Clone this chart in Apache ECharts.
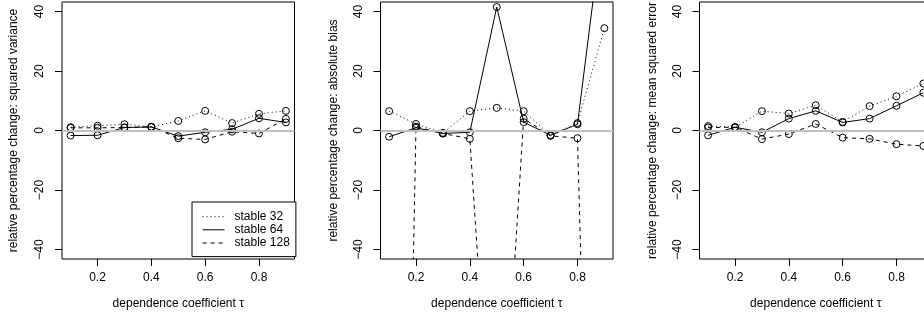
<!DOCTYPE html>
<html>
<head>
<meta charset="utf-8">
<script src="https://cdn.jsdelivr.net/npm/echarts@6/dist/echarts.min.js"></script>
<style>
  html, body { margin: 0; padding: 0; background: #fff; }
  #main { width: 924px; height: 317px; }
</style>
</head>
<body>
<div id="main"></div>
<script>
// dependence coefficient values on the x axis
const tau = [0.1, 0.2, 0.3, 0.4, 0.5, 0.6, 0.7, 0.8, 0.9];
const xTicks = [0.2, 0.4, 0.6, 0.8];
const yTicks = [-40, -20, 0, 20, 40];
const seriesNames = ['stable 32', 'stable 64', 'stable 128'];

// panel 1: squared variance
const varS32 = [1.1, 1.6, 2.1, 1.2, 3.2, 6.6, 2.5, 5.6, 6.6];
const varS64 = [-1.7, -1.6, 1.0, 1.2, -1.9, -0.6, 0.4, 4.1, 2.7];
const varS128 = [0.9, 0.9, 1.0, 1.2, -2.6, -3.0, -0.4, -1.0, 3.9];

// panel 2: absolute bias (some values far outside the plotted range)
const biasS32 = [6.5, 2.2, -0.8, 6.5, 7.6, 6.5, -1.6, 2.5, 34.4];
const biasS64 = [-2.1, 0.9, -1.0, -0.6, 41.5, 2.8, -1.6, 2.1, 74];
const biasS128 = [-450, 1.3, -1.0, -2.8, -140, 4.0, -1.8, -2.6, -330];

// panel 3: mean squared error
const mseS32 = [1.5, 1.1, 6.5, 5.7, 8.5, 2.9, 8.2, 11.5, 15.8];
const mseS64 = [-1.6, 1.1, -0.6, 4.0, 6.6, 2.7, 4.0, 8.3, 12.7];
const mseS128 = [1.0, 1.1, -2.9, -1.2, 2.2, -2.4, -2.8, -4.6, -5.2];

const yNames = [
  'relative percentage change: squared variance',
  'relative percentage change: absolute bias',
  'relative percentage change: mean squared error'
];
const panels = [
  [varS32, varS64, varS128],
  [biasS32, biasS64, biasS128],
  [mseS32, mseS64, mseS128]
];

const font = 'Liberation Sans, Arial, Helvetica, sans-serif';
const dashTypes = [[1, 3], 'solid', [4, 4]];
// left offset of each plot box (the third one runs past the right edge)
const gridLefts = [62, 380.5, 699.5];
const yNameGaps = [42, 40.5, 41];

const grids = gridLefts.map(l => ({
  left: l, top: 2, width: 232.5, height: 257,
  show: true, borderColor: '#000', borderWidth: 1,
  backgroundColor: 'transparent', containLabel: false,
  outerBoundsMode: 'none'
}));

const xAxes = gridLefts.map((l, i) => ({
  type: 'value', gridIndex: i, min: 0.068, max: 0.932,
  name: 'dependence coefficient \u03c4', nameLocation: 'middle', nameGap: 39,
  nameTextStyle: { color: '#000', fontSize: 12, fontFamily: font },
  axisLine: { show: false, onZero: false },
  axisTick: { show: true, length: 7, customValues: xTicks, lineStyle: { color: '#000', width: 1 } },
  axisLabel: {
    customValues: xTicks, margin: 13, color: '#000', fontSize: 12, fontFamily: font,
    formatter: v => v.toFixed(1)
  },
  splitLine: { show: false }
}));

const yAxes = gridLefts.map((l, i) => ({
  type: 'value', gridIndex: i, min: -43.2, max: 43.2,
  name: yNames[i], nameLocation: 'middle', nameGap: yNameGaps[i], nameRotate: 90,
  nameTextStyle: { color: '#000', fontSize: 12, fontFamily: font },
  axisLine: { show: false, onZero: false },
  axisTick: { show: true, length: 7, customValues: yTicks, lineStyle: { color: '#000', width: 1 } },
  axisLabel: {
    customValues: yTicks, rotate: 90, margin: 16, color: '#000', fontSize: 12, fontFamily: font,
    formatter: v => (v < 0 ? '\u2212' + Math.abs(v) : String(v))
  },
  splitLine: { show: false }
}));

const series = [];
panels.forEach((vals, p) => {
  vals.forEach((arr, s) => {
    const item = {
      name: seriesNames[s], type: 'line', xAxisIndex: p, yAxisIndex: p,
      data: tau.map((t, k) => [t, arr[k]]),
      clip: true,
      symbol: 'circle', symbolSize: 7,
      itemStyle: { color: 'rgba(0,0,0,0)', borderColor: '#000', borderWidth: 1 },
      lineStyle: { color: '#000', width: 1, type: dashTypes[s] },
      emphasis: { disabled: true },
      animation: false, z: 3
    };
    if (s === 0) {
      item.markLine = {
        silent: true, symbol: 'none', label: { show: false },
        lineStyle: { color: '#c0c0c0', width: 2, type: 'solid' },
        data: [{ yAxis: 0 }], animation: false
      };
    }
    series.push(item);
  });
});

const myChart = echarts.init(document.getElementById('main'), null, { renderer: 'canvas' });
myChart.setOption({
  backgroundColor: '#fff',
  animation: false,
  textStyle: { fontFamily: font },
  grid: grids,
  xAxis: xAxes,
  yAxis: yAxes,
  legend: {
    data: seriesNames,
    orient: 'vertical',
    left: 192, top: 202,
    padding: [8, 6, 7, 10],
    itemGap: 0, itemWidth: 22, itemHeight: 14,
    borderColor: '#000', borderWidth: 1, borderRadius: 0,
    backgroundColor: '#fff',
    itemStyle: { opacity: 0 },
    lineStyle: { width: 1 },
    textStyle: { color: '#000', fontSize: 12, fontFamily: font, padding: [0, 0, 0, 5] },
    selectedMode: false
  },
  series: series
});
</script>
</body>
</html>
